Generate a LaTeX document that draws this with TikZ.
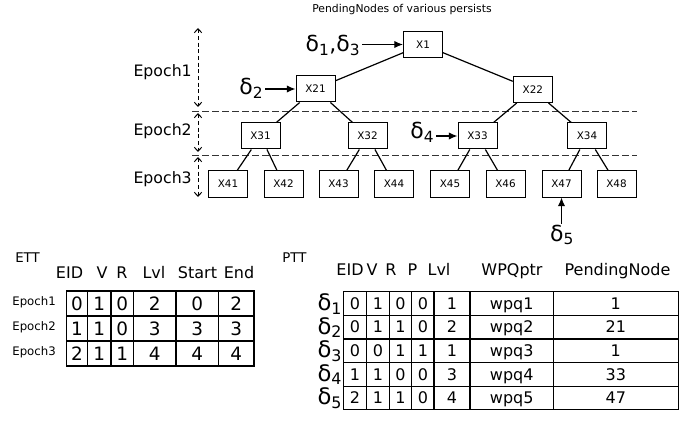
\documentclass[tikz,border=0pt]{standalone}
\usepackage{fontspec}
\setmainfont{DejaVu Sans}
\usetikzlibrary{arrows.meta}
\begin{document}
\begin{tikzpicture}[x=0.75pt,y=-0.75pt,
  tbox/.style={draw=black, line width=0.75pt, minimum width=29.25pt, minimum height=19.5pt, inner sep=0pt, font=\fontsize{7.8}{9}\selectfont},
  edge/.style={line width=0.9pt},
  sepline/.style={line width=0.75pt, dash pattern=on 5pt off 2.5pt, draw=black!80},
  eparrow/.style={line width=0.75pt, dash pattern=on 3pt off 2pt, {Straight Barb[length=3pt,width=5.5pt]}-{Straight Barb[length=3pt,width=5.5pt]}},
  dlabel/.style={font=\fontsize{16.5}{18}\selectfont, inner sep=1pt},
  darrow/.style={line width=0.9pt, -{Latex[length=6.5pt,width=5.5pt]}},
  eplabel/.style={font=\fontsize{11.8}{13}\selectfont, inner sep=0pt, anchor=base east},
  ttitle/.style={font=\fontsize{10}{12}\selectfont, inner sep=0pt},
  hdr/.style={font=\fontsize{12}{14}\selectfont, inner sep=0pt, anchor=base},
  tline/.style={line width=0.9pt},
  ecell/.style={font=\fontsize{13.8}{16}\selectfont, inner sep=0pt, text height=10.1pt, text depth=0pt},
  pcell/.style={font=\fontsize{12}{14}\selectfont, inner sep=0pt, text height=8.8pt, text depth=0pt},
  rlab/.style={font=\fontsize{8.8}{10}\selectfont, inner sep=0pt, anchor=east},
  plab/.style={font=\fontsize{17}{19}\selectfont, inner sep=0pt, anchor=base east}
]
\useasboundingbox (0,0) rectangle (699,424);

% title
\node[font=\fontsize{8.1}{10}\selectfont, inner sep=0pt, anchor=base] (title) at (402,13) {PendingNodes of various persists};

% epoch separators
\draw[sepline] (192,112) -- (637,112);
\draw[sepline] (192,156) -- (637,156);

% epoch arrows
\coordinate (e1t) at (198,28);  \coordinate (e1b) at (198,107);
\coordinate (e2t) at (198,113); \coordinate (e2b) at (198,152);
\coordinate (e3t) at (198,157); \coordinate (e3b) at (198,197);
\draw[eparrow] (e1t) -- (e1b);
\draw[eparrow] (e2t) -- (e2b);
\draw[eparrow] (e3t) -- (e3b);
\node[eplabel] (ep1) at (192,77) {Epoch1};
\node[eplabel] (ep2) at (192,136) {Epoch2};
\node[eplabel] (ep3) at (192,184) {Epoch3};

% tree
\node[tbox] (X1) at (423,44.5) {X1};
\node[tbox] (X21) at (315.5,89) {X21};
\node[tbox] (X22) at (532.8,89.5) {X22};
\node[tbox] (X31) at (260.5,136) {X31};
\node[tbox] (X32) at (367.5,136) {X32};
\node[tbox] (X33) at (477.5,136) {X33};
\node[tbox] (X34) at (587,136) {X34};
\node[tbox] (X41) at (228,184) {X41};
\node[tbox] (X42) at (283.5,184) {X42};
\node[tbox] (X43) at (338.5,184) {X43};
\node[tbox] (X44) at (394,184) {X44};
\node[tbox] (X45) at (450,184) {X45};
\node[tbox] (X46) at (505.5,184) {X46};
\node[tbox] (X47) at (561.5,184) {X47};
\node[tbox] (X48) at (616.5,184) {X48};

\draw[edge] (X1) -- (X21);
\draw[edge] (X1) -- (X22);
\draw[edge] (X21) -- (X31);
\draw[edge] (X21) -- (X32);
\draw[edge] (X22) -- (X33);
\draw[edge] (X22) -- (X34);
\draw[edge] (X31) -- (X41);
\draw[edge] (X31) -- (X42);
\draw[edge] (X32) -- (X43);
\draw[edge] (X32) -- (X44);
\draw[edge] (X33) -- (X45);
\draw[edge] (X33) -- (X46);
\draw[edge] (X34) -- (X47);
\draw[edge] (X34) -- (X48);

% delta pointers
\node[dlabel, anchor=base east] (d13) at (362,52) {δ\textsubscript{1},δ\textsubscript{3}};
\draw[darrow] (d13.east |- X1.west) -- (X1.west);
\node[dlabel, anchor=base east] (d2) at (265,95) {δ\textsubscript{2}};
\draw[darrow] (d2.east |- X21.west) -- (X21.west);
\node[dlabel, anchor=base east] (d4) at (436,139) {δ\textsubscript{4}};
\draw[darrow] (d4.east |- X33.west) -- (X33.west);
\node[dlabel, anchor=base] (d5) at (562,241.5) {δ\textsubscript{5}};
\draw[darrow] (d5.north -| X47.south) -- (X47.south);

% ETT table
\node[ttitle] (ett) at (27.5,257.5) {ETT};
\node[hdr] (eh1) at (69.5,278.5) {EID};
\node[hdr] (eh2) at (102,278.5) {V};
\node[hdr] (eh3) at (122,278.5) {R};
\node[hdr] (eh4) at (154,278.5) {Lvl};
\node[hdr] (eh5) at (197.5,278.5) {Start};
\node[hdr] (eh6) at (239,278.5) {End};
\draw[tline] (66.7,291) rectangle (254,366);
\foreach \x in {87.3,111,133.3,176,218.3} \draw[tline] (\x,291) -- (\x,366);
\foreach \y in {316,341} \draw[tline] (66.7,\y) -- (254,\y);
\foreach \r/\y/\a/\b/\c/\d/\e/\f in {1/303.5/0/1/0/2/0/2, 2/328.5/1/1/0/3/3/3, 3/353.5/2/1/1/4/4/4} {
  \node[rlab] (er\r) at (56,\y-1) {Epoch\r};
  \node[ecell] (e\r a) at (77,\y) {\a};
  \node[ecell] (e\r b) at (99.2,\y) {\b};
  \node[ecell] (e\r c) at (122.2,\y) {\c};
  \node[ecell] (e\r d) at (154.7,\y) {\d};
  \node[ecell] (e\r e) at (197.2,\y) {\e};
  \node[ecell] (e\r f) at (236.2,\y) {\f};
}

% PTT table
\node[ttitle] (ptt) at (294.5,258) {PTT};
\node[hdr] (ph1) at (350,275) {EID};
\node[hdr] (ph2) at (372,275) {V};
\node[hdr] (ph3) at (391,275) {R};
\node[hdr] (ph4) at (412.5,275) {P};
\node[hdr] (ph5) at (439,275) {Lvl};
\node[hdr] (ph6) at (512,275) {WPQptr};
\node[hdr] (ph7) at (617.5,275) {PendingNode};
\draw[tline] (343.3,291.7) rectangle (678.3,409.7);
\foreach \x in {366.7,389.3,411.7,434,470,553.3} \draw[tline] (\x,291.7) -- (\x,409.7);
\foreach \y in {315.3,338.9,362.5,386.1} \draw[tline] (343.3,\y) -- (678.3,\y);
\foreach \r/\y/\a/\b/\c/\d/\e/\f/\g in {1/303.5/0/1/0/0/1/wpq1/1, 2/327.1/0/1/1/0/2/wpq2/21, 3/350.7/0/0/1/1/1/wpq3/1, 4/374.3/1/1/0/0/3/wpq4/33, 5/397.9/2/1/1/0/4/wpq5/47} {
  \node[plab] (pl\r) at (342.5,\y+7) {δ\textsubscript{\r}};
  \node[pcell] (p\r a) at (355,\y) {\a};
  \node[pcell] (p\r b) at (378,\y) {\b};
  \node[pcell] (p\r c) at (400.5,\y) {\c};
  \node[pcell] (p\r d) at (422.9,\y) {\d};
  \node[pcell] (p\r e) at (452,\y) {\e};
  \node[pcell] (p\r f) at (511.7,\y) {\f};
  \node[pcell] (p\r g) at (615.8,\y) {\g};
}
\end{tikzpicture}
\end{document}
